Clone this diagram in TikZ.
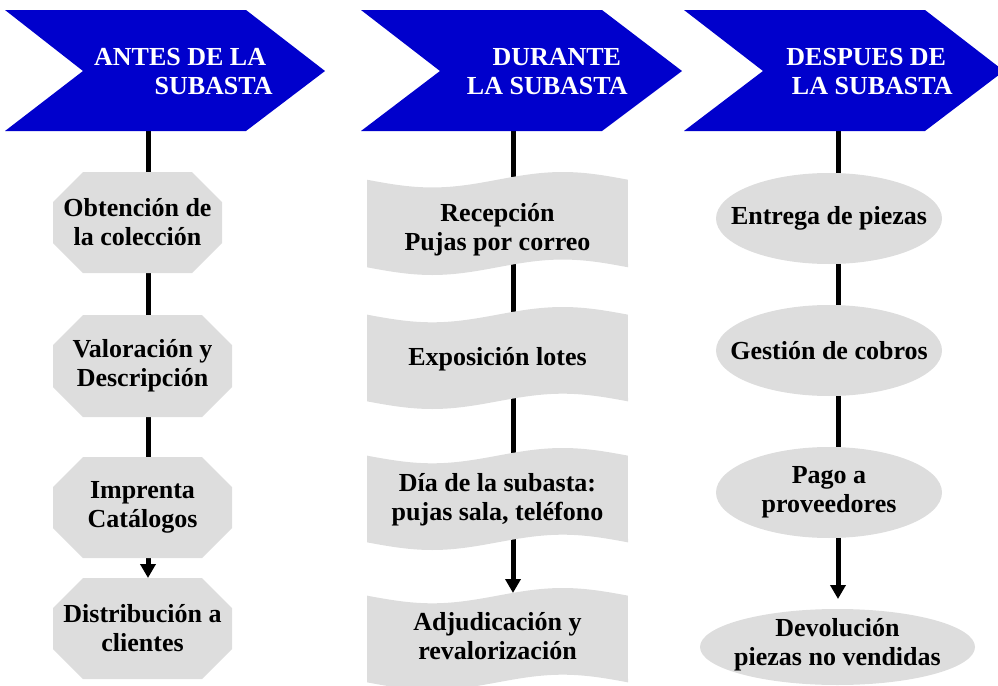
\documentclass[tikz,border=0pt]{standalone}
\usepackage{fontspec}
\setmainfont{Liberation Serif}
\usetikzlibrary{arrows.meta}
\definecolor{hdrblue}{RGB}{0,0,204}
\definecolor{boxgray}{RGB}{221,221,221}
\pgfdeclarelayer{lines}
\pgfdeclarelayer{shapes}
\pgfsetlayers{lines,shapes,main}

% octagon box: name, L, T, R, B, text
\newcommand\octbox[6]{%
  \node[txt, minimum width={(#4-#2)/2}, minimum height={(#5-#3)/2}] (#1) at ({(#2+#4)/2},{(#3+#5)/2}) {#6};
  \begin{pgfonlayer}{shapes}
  \fill[boxgray] ({#2+30},#3) -- ({#4-30},#3) -- (#4,{#3+30}) -- (#4,{#5-30}) -- ({#4-30},#5) -- ({#2+30},#5) -- (#2,{#5-30}) -- (#2,{#3+30}) -- cycle;
  \end{pgfonlayer}}

% punched tape box: name, L, T, R, B, text shift, text
\newcommand\tapebox[7]{%
  \node[txt] (#1) at ({(#2+#4)/2},{(#3+#5)/2+#6}) {#7};
  \pgfmathsetmacro\tpA{0.075*(#5-#3)}%
  \pgfmathsetmacro\tpT{#3+\tpA}%
  \pgfmathsetmacro\tpB{#5-\tpA}%
  \begin{pgfonlayer}{shapes}
  \fill[boxgray] plot[domain=0:1,samples=61] ({#2+(#4-#2)*\x},{\tpT+\tpA*sin(360*\x)})
     -- plot[domain=1:0,samples=61] ({#2+(#4-#2)*\x},{\tpB+\tpA*sin(360*\x)}) -- cycle;
  \end{pgfonlayer}}

\begin{document}
\begin{tikzpicture}[x=0.5pt,y=-0.5pt,
  txt/.style={font=\bfseries\fontsize{13}{14.5}\selectfont, align=center, inner sep=0pt},
  hdr/.style={txt, text=white, align=right, anchor=east},
  conn/.style={line width=2.5pt},
  arr/.style={-{Triangle[width=7.5pt,length=7pt]}}]
\useasboundingbox (0,0) rectangle (998,686);

% header chevrons
\begin{pgfonlayer}{shapes}
\fill[hdrblue] (5,10) -- (246,10) -- (325,71) -- (246,131) -- (5,131) -- (83,71) -- cycle;
\fill[hdrblue] (361,10) -- (602,10) -- (682,71) -- (602,131) -- (361,131) -- (440,71) -- cycle;
\fill[hdrblue] (684,10) -- (925,10) -- (1004,71) -- (925,131) -- (684,131) -- (763,71) -- cycle;
\end{pgfonlayer}
\node[hdr] (h1) at (273,72) {ANTES DE LA\kern3.25pt\\SUBASTA};
\node[hdr] (h2) at (628,72) {DURANTE\kern3.25pt\\LA SUBASTA};
\node[hdr] (h3) at (953,72) {DESPUES DE\kern3.25pt\\LA SUBASTA};

% column 1
\octbox{o1}{53}{172}{222}{273}{Obtención de\\la colección}
\octbox{o2}{53}{315}{232}{417}{Valoración y\\Descripción}
\octbox{o3}{53}{457}{232}{558}{Imprenta\\Catálogos}
\octbox{o4}{53}{578}{232}{679}{Distribución a\\clientes}

% column 2
\tapebox{t1}{367}{172}{628}{275}{6}{Recepción\\Pujas por correo}
\tapebox{t2}{367}{307}{628}{409}{1}{Exposición lotes}
\tapebox{t3}{367}{448}{628}{550}{1}{Día de la subasta:\\pujas sala, teléfono}
\tapebox{t4}{367}{588}{628}{690}{-3}{Adjudicación y\\revalorización}

% column 3
\node[txt] (e1) at (829,218.5) {Entrega de piezas};
\node[txt] (e2) at (829,350.5) {Gestión de cobros};
\node[txt] (e3) at (829,492.5) {Pago a\\proveedores};
\node[txt] (e4) at (837.5,645) {Devolución\\piezas no vendidas};
\begin{pgfonlayer}{shapes}
\fill[boxgray] (e1.center) ellipse [x radius=113, y radius=45.5];
\fill[boxgray] (e2.center) ellipse [x radius=113, y radius=45.5];
\fill[boxgray] (e3.center) ellipse [x radius=113, y radius=45.5];
\fill[boxgray] ([yshift=-1pt]e4.center) ellipse [x radius=137.5, y radius=38];
\end{pgfonlayer}

% connectors
\coordinate (c1) at (148,131);
\coordinate (c2) at (513,131);
\coordinate (c3) at (838,131);
\coordinate (a1) at (148,578);
\coordinate (a2) at (513,593);
\coordinate (a3) at (838,599);
\begin{pgfonlayer}{lines}
\draw[conn] (c1) -- (c1 |- o1.center);
\draw[conn] (c1 |- o1.center) -- (c1 |- o2.center);
\draw[conn] (c1 |- o2.center) -- (c1 |- o3.center);
\draw[conn,arr] (c1 |- o3.center) -- (a1);
\draw[conn] (c2) -- (c2 |- t1.center);
\draw[conn] (c2 |- t1.center) -- (c2 |- t2.center);
\draw[conn] (c2 |- t2.center) -- (c2 |- t3.center);
\draw[conn,arr] (c2 |- t3.center) -- (a2);
\draw[conn] (c3) -- (c3 |- e1.center);
\draw[conn] (c3 |- e1.center) -- (c3 |- e2.center);
\draw[conn] (c3 |- e2.center) -- (c3 |- e3.center);
\draw[conn,arr] (c3 |- e3.center) -- (a3);
\end{pgfonlayer}
\end{tikzpicture}
\end{document}
